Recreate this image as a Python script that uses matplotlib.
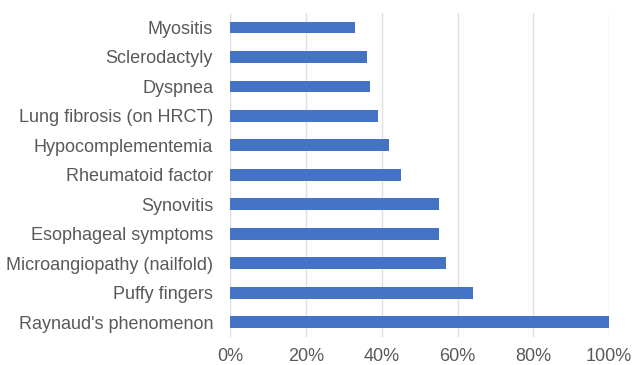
import matplotlib.pyplot as plt
from matplotlib.ticker import PercentFormatter

categories = ["Raynaud's phenomenon", "Puffy fingers", "Microangiopathy (nailfold)",
              "Esophageal symptoms", "Synovitis", "Rheumatoid factor",
              "Hypocomplementemia", "Lung fibrosis (on HRCT)", "Dyspnea",
              "Sclerodactyly", "Myositis"]
values = [100, 64, 57, 55, 55, 45, 42, 39, 37, 36, 33]
xticks = [0, 20, 40, 60, 80, 100]

plt.rcParams['font.family'] = ['Liberation Sans', 'DejaVu Sans']

fig = plt.figure(figsize=(6.32, 3.65), dpi=100)
ax = fig.add_axes([0.3645, 0.077, 0.599, 0.888])

ax.barh(range(len(categories)), values, height=0.4, color='#4472C4', zorder=3)
ax.set_yticks(range(len(categories)))
ax.set_yticklabels(categories)
ax.set_ylim(-0.5, len(categories) - 0.5)
ax.set_xlim(0, 100)
ax.set_xticks(xticks)
ax.xaxis.set_major_formatter(PercentFormatter(decimals=0))

ax.grid(axis='x', color='#e0e0e0', linewidth=1, zorder=0)
for s in ax.spines.values():
    s.set_visible(False)
ax.tick_params(length=0, labelsize=13, colors='#595959')
ax.tick_params(axis='y', pad=12.5)
ax.tick_params(axis='x', pad=8)

fig.savefig('out.png', dpi=100)
